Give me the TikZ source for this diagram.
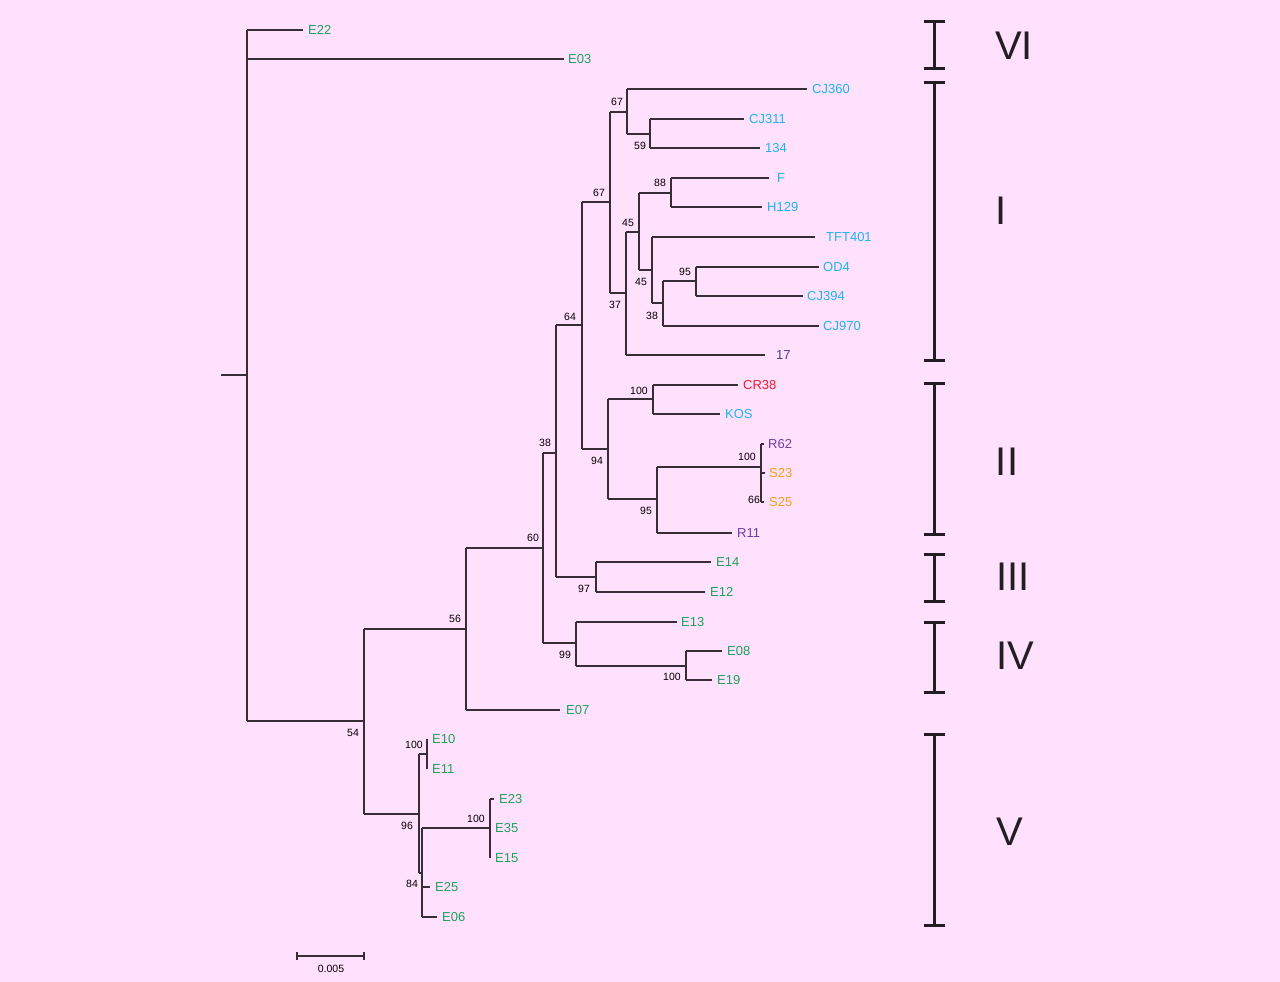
\documentclass[tikz,border=0pt]{standalone}
\usepackage{fontspec}
\setmainfont{Liberation Sans}
\definecolor{bg}{RGB}{255,225,253}
\definecolor{cgreen}{RGB}{30,160,90}
\definecolor{ccyan}{RGB}{30,180,240}
\definecolor{cpurple}{RGB}{110,60,170}
\definecolor{cdark}{RGB}{70,60,150}
\definecolor{corange}{RGB}{245,160,30}
\definecolor{cred}{RGB}{235,30,50}
\definecolor{cline}{RGB}{55,45,55}
\definecolor{cbar}{RGB}{35,30,35}
\newcommand\tbranch[2]{\draw[branch] (#1 |- #2) -- (#2);}
\newcommand\tvert[3]{\draw[branch] (#1 |- #2) -- (#1 |- #3);}
\begin{document}
\begin{tikzpicture}[x=1pt,y=-1pt,
  branch/.style={draw=cline,line width=1.25pt},
  leaf/.style={anchor=west,inner sep=0pt,font=\fontsize{13}{13}\selectfont},
  boot/.style={inner sep=0pt,font=\fontsize{10.5}{11}\selectfont,text=black},
  bracket/.style={draw=cbar,line width=3pt},
  clade/.style={inner sep=0pt,font=\fontsize{40}{40}\selectfont,text=cbar}]
\fill[bg] (0,0) rectangle (1280,982);
\useasboundingbox (0,0) rectangle (1280,982);
% internal nodes
\coordinate (root) at (247,375);
\coordinate (rstub) at (221,375);
\coordinate (n54) at (364,721);
\coordinate (n56) at (466,629);
\coordinate (n60) at (543,548);
\coordinate (n38) at (556,453);
\coordinate (n64) at (582,325);
\coordinate (n67b) at (610,202);
\coordinate (n67a) at (627,112);
\coordinate (n59) at (650,134);
\coordinate (n37) at (626,293);
\coordinate (n45a) at (639,232);
\coordinate (n88) at (671,193);
\coordinate (n45b) at (652,270);
\coordinate (n38c) at (663,303);
\coordinate (n95a) at (696,281);
\coordinate (n94) at (608,449);
\coordinate (n100a) at (653,399);
\coordinate (n95b) at (657,499);
\coordinate (n100c) at (761,467);
\coordinate (n97) at (596,577);
\coordinate (n99) at (576,643);
\coordinate (n100d) at (686,666);
\coordinate (n96) at (419,814);
\coordinate (n100e) at (427,754);
\coordinate (n84) at (422,873);
\coordinate (n100f) at (490,828);
% leaf tips
\coordinate (tE22) at (303,30);
\coordinate (tE03) at (564,59);
\coordinate (tCJ360) at (807,89);
\coordinate (tCJ311) at (744,119);
\coordinate (t134) at (760,148);
\coordinate (tF) at (769,178);
\coordinate (tH129) at (762,207);
\coordinate (tTFT401) at (815,237);
\coordinate (tOD4) at (819,267);
\coordinate (tCJ394) at (803,296);
\coordinate (tCJ970) at (819,326);
\coordinate (t17) at (765,355);
\coordinate (tCR38) at (738,385);
\coordinate (tKOS) at (720,414);
\coordinate (tR62) at (764,444);
\coordinate (tS23) at (765,473);
\coordinate (tS25) at (764,502);
\coordinate (tR11) at (732,533);
\coordinate (tE14) at (711,562);
\coordinate (tE12) at (705,592);
\coordinate (tE13) at (677,622);
\coordinate (tE08) at (722,651);
\coordinate (tE19) at (712,680);
\coordinate (tE07) at (560,710);
\coordinate (tE10) at (427,739);
\coordinate (tE11) at (427,769);
\coordinate (tE23) at (494,799);
\coordinate (tE35) at (490,828);
\coordinate (tE15) at (490,858);
\coordinate (tE25) at (430,887);
\coordinate (tE06) at (437,917);
% root
\draw[branch] (rstub) -- (root);
\tvert{root}{tE22}{n54}
\tbranch{root}{tE22}\tbranch{root}{tE03}\tbranch{root}{n54}
% n54
\tvert{n54}{n56}{n96}
\tbranch{n54}{n56}\tbranch{n54}{n96}
\tvert{n56}{n60}{tE07}
\tbranch{n56}{n60}\tbranch{n56}{tE07}
\tvert{n60}{n38}{n99}
\tbranch{n60}{n38}\tbranch{n60}{n99}
\tvert{n38}{n64}{n97}
\tbranch{n38}{n64}\tbranch{n38}{n97}
\tvert{n64}{n67b}{n94}
\tbranch{n64}{n67b}\tbranch{n64}{n94}
\tvert{n67b}{n67a}{n37}
\tbranch{n67b}{n67a}\tbranch{n67b}{n37}
\tvert{n67a}{tCJ360}{n59}
\tbranch{n67a}{tCJ360}\tbranch{n67a}{n59}
\tvert{n59}{tCJ311}{t134}
\tbranch{n59}{tCJ311}\tbranch{n59}{t134}
\tvert{n37}{n45a}{t17}
\tbranch{n37}{n45a}\tbranch{n37}{t17}
\tvert{n45a}{n88}{n45b}
\tbranch{n45a}{n88}\tbranch{n45a}{n45b}
\tvert{n88}{tF}{tH129}
\tbranch{n88}{tF}\tbranch{n88}{tH129}
\tvert{n45b}{tTFT401}{n38c}
\tbranch{n45b}{tTFT401}\tbranch{n45b}{n38c}
\tvert{n38c}{n95a}{tCJ970}
\tbranch{n38c}{n95a}\tbranch{n38c}{tCJ970}
\tvert{n95a}{tOD4}{tCJ394}
\tbranch{n95a}{tOD4}\tbranch{n95a}{tCJ394}
\tvert{n94}{n100a}{n95b}
\tbranch{n94}{n100a}\tbranch{n94}{n95b}
\tvert{n100a}{tCR38}{tKOS}
\tbranch{n100a}{tCR38}\tbranch{n100a}{tKOS}
\tvert{n95b}{n100c}{tR11}
\tbranch{n95b}{n100c}\tbranch{n95b}{tR11}
\tvert{n100c}{tR62}{tS25}
\tbranch{n100c}{tR62}\tbranch{n100c}{tS23}\tbranch{n100c}{tS25}
\tvert{n97}{tE14}{tE12}
\tbranch{n97}{tE14}\tbranch{n97}{tE12}
\tvert{n99}{tE13}{n100d}
\tbranch{n99}{tE13}\tbranch{n99}{n100d}
\tvert{n100d}{tE08}{tE19}
\tbranch{n100d}{tE08}\tbranch{n100d}{tE19}
\tvert{n96}{n100e}{n84}
\tbranch{n96}{n100e}\tbranch{n96}{n84}
\tvert{n100e}{tE10}{tE11}
\tvert{n84}{n100f}{tE06}
\tbranch{n84}{n100f}\tbranch{n84}{tE25}\tbranch{n84}{tE06}
\tvert{n100f}{tE23}{tE15}
\tbranch{n100f}{tE23}
% leaf labels
\node[leaf,text=cgreen] (lE22) at (308,30) {E22};
\node[leaf,text=cgreen] (lE03) at (568,59) {E03};
\node[leaf,text=ccyan] (lCJ360) at (812,89) {CJ360};
\node[leaf,text=ccyan] (lCJ311) at (749,119) {CJ311};
\node[leaf,text=ccyan] (l134) at (765,148) {134};
\node[leaf,text=ccyan] (lF) at (777,178) {F};
\node[leaf,text=ccyan] (lH129) at (767,207) {H129};
\node[leaf,text=ccyan] (lTFT401) at (826,237) {TFT401};
\node[leaf,text=ccyan] (lOD4) at (823,267) {OD4};
\node[leaf,text=ccyan] (lCJ394) at (807,296) {CJ394};
\node[leaf,text=ccyan] (lCJ970) at (823,326) {CJ970};
\node[leaf,text=cdark] (l17) at (776,355) {17};
\node[leaf,text=cred] (lCR38) at (743,385) {CR38};
\node[leaf,text=ccyan] (lKOS) at (725,414) {KOS};
\node[leaf,text=cpurple] (lR62) at (768,444) {R62};
\node[leaf,text=corange] (lS23) at (769,473) {S23};
\node[leaf,text=corange] (lS25) at (769,502) {S25};
\node[leaf,text=cpurple] (lR11) at (737,533) {R11};
\node[leaf,text=cgreen] (lE14) at (716,562) {E14};
\node[leaf,text=cgreen] (lE12) at (710,592) {E12};
\node[leaf,text=cgreen] (lE13) at (681,622) {E13};
\node[leaf,text=cgreen] (lE08) at (727,651) {E08};
\node[leaf,text=cgreen] (lE19) at (717,680) {E19};
\node[leaf,text=cgreen] (lE07) at (566,710) {E07};
\node[leaf,text=cgreen] (lE10) at (432,739) {E10};
\node[leaf,text=cgreen] (lE11) at (432,769) {E11};
\node[leaf,text=cgreen] (lE23) at (499,799) {E23};
\node[leaf,text=cgreen] (lE35) at (495,828) {E35};
\node[leaf,text=cgreen] (lE15) at (495,858) {E15};
\node[leaf,text=cgreen] (lE25) at (435,887) {E25};
\node[leaf,text=cgreen] (lE06) at (442,917) {E06};
% bootstrap values
\node[boot] (b67a) at (617,102) {67};
\node[boot] (b59) at (640,146) {59};
\node[boot] (b67b) at (599,193) {67};
\node[boot] (b88) at (660,183) {88};
\node[boot] (b45a) at (628,223) {45};
\node[boot] (b45b) at (641,282) {45};
\node[boot] (b95a) at (685,272) {95};
\node[boot] (b38c) at (652,316) {38};
\node[boot] (b37) at (615,305) {37};
\node[boot] (b64) at (570,317) {64};
\node[boot] (b38) at (545,443) {38};
\node[boot] (b100a) at (639,391) {100};
\node[boot] (b94) at (597,461) {94};
\node[boot] (b100c) at (747,457) {100};
\node[boot] (b66) at (754,500) {66};
\node[boot] (b95b) at (646,511) {95};
\node[boot] (b60) at (533,538) {60};
\node[boot] (b97) at (584,589) {97};
\node[boot] (b56) at (455,619) {56};
\node[boot] (b99) at (565,655) {99};
\node[boot] (b100d) at (672,677) {100};
\node[boot] (b54) at (353,733) {54};
\node[boot] (b100e) at (414,745) {100};
\node[boot] (b96) at (407,826) {96};
\node[boot] (b100f) at (476,819) {100};
\node[boot] (b84) at (412,884) {84};
% scale bar
\coordinate (sbL) at (297,956);
\coordinate (sbR) at (364,956);
\draw[branch] (sbL) -- (sbR);
\draw[branch] ([yshift=-4pt]sbL) -- ([yshift=4pt]sbL);
\draw[branch] ([yshift=-4pt]sbR) -- ([yshift=4pt]sbR);
\node[boot] (sblab) at (331,969) {0.005};
% clade brackets
\foreach \nm/\ya/\yb/\lx/\ly/\txt in {VI/22/69/1014/46/VI, I/83/360/1001/211/I, II/383/534/1007/462/II, III/554/601/1013/577/III, IV/622/692/1015/656/IV, V/734/925/1010/832/V}{
  \coordinate (bt\nm) at (934,\ya);
  \coordinate (bb\nm) at (934,\yb);
  \draw[bracket] (bt\nm) -- (bb\nm);
  \draw[bracket] ([xshift=-10.5pt]bt\nm) -- ([xshift=10.5pt]bt\nm);
  \draw[bracket] ([xshift=-10.5pt]bb\nm) -- ([xshift=10.5pt]bb\nm);
  \node[clade] (cl\nm) at (\lx,\ly) {\txt};
}
\end{tikzpicture}
\end{document}
